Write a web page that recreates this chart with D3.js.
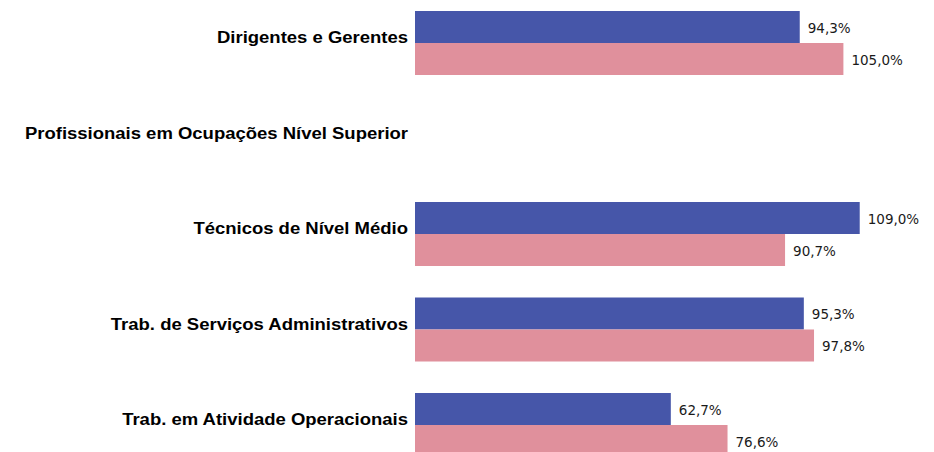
<!DOCTYPE html>
<html>
<head>
<meta charset="utf-8">
<script src="https://cdn.jsdelivr.net/npm/d3@7"></script>
<style>
  body { margin: 0; background: #fff; }
</style>
</head>
<body>
<div id="chart"></div>
<script>
const categories = [
  "Dirigentes e Gerentes",
  "Profissionais em Ocupações Nível Superior",
  "Técnicos de Nível Médio",
  "Trab. de Serviços Administrativos",
  "Trab. em Atividade Operacionais"
];
const series = ["serie1", "serie2"];
const serie1Values = [94.3, null, 109.0, 95.3, 62.7];
const serie2Values = [105.0, null, 90.7, 97.8, 76.6];
const colors = ["#4656a9", "#e0909c"];

const width = 934, height = 452;

const svg = d3.select("#chart")
  .append("svg")
  .attr("width", width)
  .attr("height", height);

// centro de cada categoria
const y = d3.scalePoint().domain(categories).range([43, 425]);
// posição de cada série dentro do grupo
const ySub = d3.scaleBand().domain(series).range([-32, 32]).padding(0);
const x = d3.scaleLinear().domain([0, 100]).range([415, 823]);

const ptBR = d3.formatLocale({ decimal: ",", thousands: ".", grouping: [3], currency: ["R$", ""] });
const fmt = ptBR.format(".1f");

const rows = [];
categories.forEach((c, i) => {
  [serie1Values[i], serie2Values[i]].forEach((v, j) => {
    if (v != null) rows.push({ cat: c, serie: series[j], value: v, color: colors[j] });
  });
});

svg.selectAll(".bar")
  .data(rows)
  .enter()
  .append("rect")
  .attr("class", "bar")
  .attr("x", x(0))
  .attr("y", d => y(d.cat) + ySub(d.serie))
  .attr("width", d => x(d.value) - x(0))
  .attr("height", ySub.bandwidth())
  .attr("fill", d => d.color);

svg.selectAll(".val")
  .data(rows)
  .enter()
  .append("text")
  .attr("class", "val")
  .attr("x", d => x(d.value) + 8)
  .attr("y", d => y(d.cat) + ySub(d.serie) + ySub.bandwidth() / 2 + 1)
  .attr("dy", "0.35em")
  .attr("font-family", "DejaVu Sans, Verdana, sans-serif")
  .attr("font-size", "13.5px")
  .attr("fill", "#1a1a1a")
  .text(d => fmt(d.value) + "%");

// rótulos das categorias (texto um pouco esticado na horizontal, como no original)
svg.append("g")
  .attr("transform", `translate(408,0)`)
  .call(d3.axisLeft(y).tickSize(0).tickPadding(0))
  .call(g => g.select(".domain").remove())
  .selectAll("text")
  .attr("dy", "-0.5")
  .attr("font-family", "Liberation Sans, Arial, sans-serif")
  .attr("font-weight", "bold")
  .attr("font-size", "16px")
  .attr("fill", "#000")
  .each(function () {
    const w = this.getComputedTextLength();
    d3.select(this).attr("textLength", w * 1.155).attr("lengthAdjust", "spacingAndGlyphs");
  });
</script>
</body>
</html>
